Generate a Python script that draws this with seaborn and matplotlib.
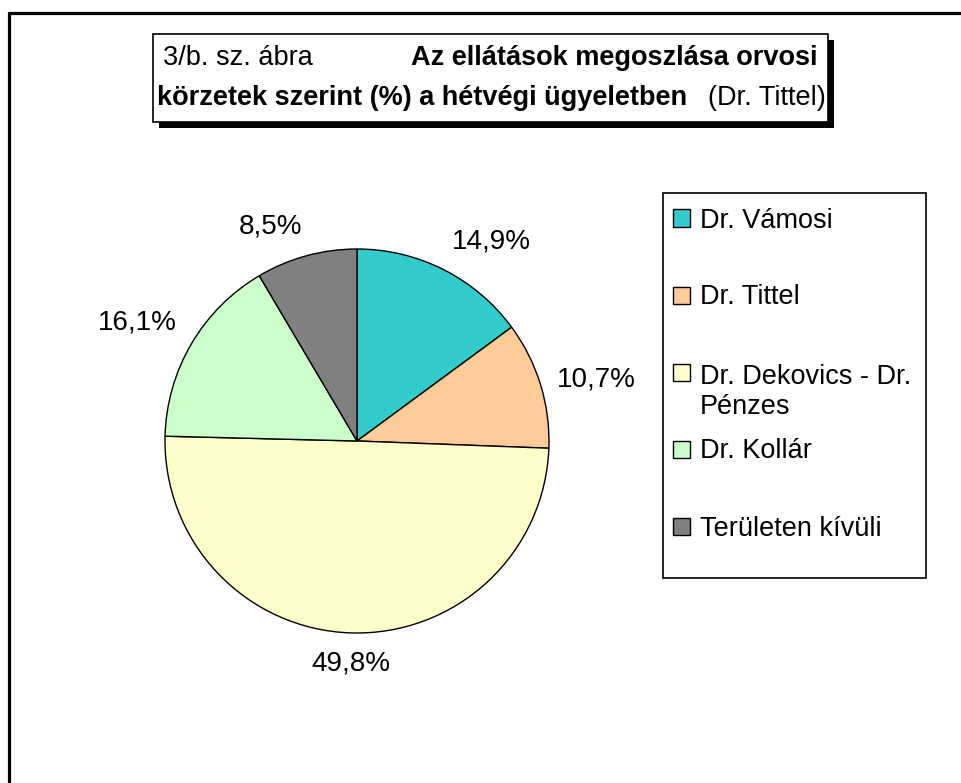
import matplotlib
matplotlib.use("Agg")
import matplotlib.pyplot as plt
import seaborn as sns
import numpy as np
from matplotlib.patches import Rectangle
from matplotlib.lines import Line2D

# ---- data ----
categories = ["Dr. Vámosi", "Dr. Tittel", "Dr. Dekovics - Dr. Pénzes", "Dr. Kollár", "Területen kívüli"]
values = [14.9, 10.7, 49.8, 16.1, 8.5]
colors = ["#33CCCC", "#FFCC99", "#FFFFCC", "#CCFFCC", "#808080"]
legend_labels = ["Dr. Vámosi", "Dr. Tittel", "Dr. Dekovics - Dr.\nPénzes", "Dr. Kollár", "Területen kívüli"]
title_prefix = "3/b. sz. ábra"
title_bold_1 = "Az ellátások megoszlása orvosi"
title_bold_2 = "körzetek szerint (%) a hétvégi ügyeletben"
title_suffix = "(Dr. Tittel)"

sns.set_theme(style="white")
plt.rcParams['font.family'] = ['Liberation Sans', 'DejaVu Sans']
plt.rcParams['text.color'] = 'black'

W, H = 962, 783
fig = plt.figure(figsize=(W / 100, H / 100), dpi=100)
fig.patch.set_facecolor("white")


def fx(x):
    return x / W


def fy(y):
    return 1 - y / H


FS = 19.5

# outer frame (left and top edges visible)
fig.add_artist(Line2D([fx(9), fx(9)], [fy(13), fy(800)], color="black", lw=2.3))
fig.add_artist(Line2D([fx(9), fx(970)], [fy(13), fy(13)], color="black", lw=2.3))

# title box with shadow
bx0, by0, bx1, by1 = 153, 34, 828, 122
sh = 6
fig.add_artist(Rectangle((fx(bx0 + sh), fy(by1 + sh)), (bx1 - bx0) / W, (by1 - by0) / H,
                         facecolor="black", edgecolor="black", lw=0))
fig.add_artist(Rectangle((fx(bx0), fy(by1)), (bx1 - bx0) / W, (by1 - by0) / H,
                         facecolor="white", edgecolor="black", lw=1.2))
fig.text(fx(163), fy(58), title_prefix, ha="left", va="center", fontsize=FS)
fig.text(fx(818), fy(58), title_bold_1, ha="right", va="center", fontsize=FS, fontweight="bold")
fig.text(fx(157), fy(98), title_bold_2, ha="left", va="center", fontsize=FS, fontweight="bold")
fig.text(fx(826), fy(98), title_suffix, ha="right", va="center", fontsize=FS)

# pie
cx, cy, R = 357, 441, 192
ax = fig.add_axes([fx(cx - 1.25 * R), fy(cy + 1.25 * R), 2.5 * R / W, 2.5 * R / H])
wedges, texts, autotexts = ax.pie(
    values, colors=colors, startangle=90, counterclock=False,
    autopct=lambda p: f"{p:.1f}%".replace(".", ","), pctdistance=1.1,
    wedgeprops=dict(edgecolor="black", linewidth=1.0),
    textprops=dict(fontsize=20, color="black"))
ax.set_xlim(-1.25, 1.25)
ax.set_ylim(-1.25, 1.25)
ax.set_aspect("equal")
ax.axis("off")

for w, t in zip(wedges, autotexts):
    th = np.deg2rad((w.theta1 + w.theta2) / 2)
    c, s = np.cos(th), np.sin(th)
    r = 1.09
    t.set_position((r * c, r * s))
    t.set_ha("left" if c > 0.15 else ("right" if c < -0.15 else "center"))
    t.set_va("bottom" if s > 0.3 else ("top" if s < -0.3 else "center"))

# legend box
lx0, ly0, lx1, ly1 = 663, 193, 926, 578
fig.add_artist(Rectangle((fx(lx0), fy(ly1)), (lx1 - lx0) / W, (ly1 - ly0) / H,
                         facecolor="white", edgecolor="black", lw=1.2))
line_step = 33
for i, (lab, col) in enumerate(zip(legend_labels, colors)):
    yc = 218 + 77 * i
    nlines = lab.count("\n") + 1
    fig.add_artist(Rectangle((fx(673), fy(yc + 8.5)), 17 / W, 17 / H,
                             facecolor=col, edgecolor="black", lw=1.0))
    fig.text(fx(700), fy(yc + 9.5 + line_step * (nlines - 1)), lab, ha="left",
             va="baseline", fontsize=FS, linespacing=1.24)

fig.savefig("out.png", dpi=100, facecolor="white")
